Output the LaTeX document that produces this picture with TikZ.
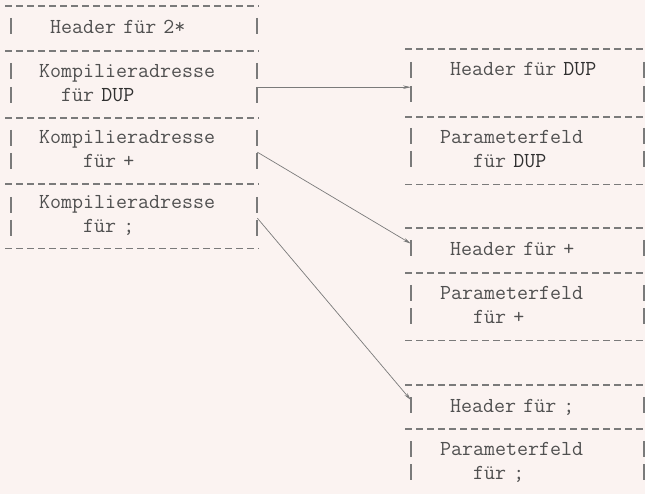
\documentclass[tikz,border=0pt]{standalone}
\usepackage{fontspec}
\usetikzlibrary{arrows.meta}

\definecolor{paper}{HTML}{FBF3F1}
\definecolor{ink}{HTML}{505050}
\definecolor{darkink}{HTML}{303030}
\definecolor{pen}{HTML}{7A7A7A}

\newcommand{\typewr}{\ttfamily\fontsize{21.36}{24}\selectfont
  \fontdimen2\font=11pt\fontdimen3\font=0pt\fontdimen4\font=0pt\relax}

\begin{document}
\begin{tikzpicture}[
  x=1pt, y=-1pt,
  >=Stealth,
  cellbase/.style={rectangle, anchor=north west, inner ysep=0pt,
              align=left, text=ink, font=\typewr},
  lcell/.style={cellbase, inner xsep=28pt, text width=190pt},
  lhead/.style={cellbase, inner xsep=39pt, text width=168pt},
  rcell/.style={cellbase, inner xsep=29pt, text width=176pt},
  rhead/.style={cellbase, inner xsep=39pt, text width=156pt},
  hyph/.style={pen, line width=1.1pt, dash pattern=on 7pt off 4pt},
  vbar/.style={pen, line width=1.1pt},
  arr/.style={-{Stealth[length=8pt,width=3.5pt]}, pen, line width=0.7pt},
]

\fill[paper] (0,0) rectangle (645,494);
\useasboundingbox (0,0) rectangle (645,494);

% Woerterbucheintrag von 2*
\node[lhead, minimum height=45pt] (h2s) at (11,6) {\strut Header für 2*};
\node[lcell, minimum height=67pt] (kdup) at (11,51)
  {\strut Kompilieradresse\\\strut\hspace*{22pt}für {\color{darkink}DUP}};
\node[lcell, minimum height=66pt] (kplus) at (11,118)
  {\strut Kompilieradresse\\\strut\hspace*{44pt}für +};
\node[lcell, minimum height=64pt] (ksemi) at (11,184)
  {\strut Kompilieradresse\\\strut\hspace*{44pt}für ;};

% aufgerufene Worte
\node[rhead, minimum height=68pt] (hdup) at (411,49)
  {\strut Header für {\color{darkink}DUP}\\\strut};
\node[rcell, minimum height=67pt] (pdup) at (411,117)
  {\strut Parameterfeld\\\strut\hspace*{33pt}für {\color{darkink}DUP}};
\node[rhead, minimum height=45pt] (hplus) at (411,228) {\strut Header für +};
\node[rcell, minimum height=67pt] (pplus) at (411,273)
  {\strut Parameterfeld\\\strut\hspace*{33pt}für +};
\node[rhead, minimum height=44pt] (hsemi) at (411,385) {\strut Header für ;};
\node[rcell, minimum height=67pt] (psemi) at (411,429)
  {\strut Parameterfeld\\\strut\hspace*{33pt}für ;};

% Trennlinien aus Bindestrichen
\foreach \c in {h2s,kdup,kplus,ksemi,hdup,pdup,hplus,pplus,hsemi,psemi}
  \draw[hyph] ([xshift=-6pt]\c.north west) -- ([xshift=1pt]\c.north east);
\foreach \c in {ksemi,pdup,pplus}
  \draw[hyph] ([xshift=-6pt]\c.south west) -- ([xshift=1pt]\c.south east);

% senkrechte Striche
\foreach \y in {28,73,97,140,163,207,230} {
  \draw[vbar] (11,{\y-10}) -- (11,{\y+6});
  \draw[vbar] (257,{\y-10}) -- (257,{\y+6});
}
\foreach \y in {72,96,138,161,250,295,318,407,451,474} {
  \draw[vbar] (411,{\y-10}) -- (411,{\y+6});
  \draw[vbar] (644,{\y-10}) -- (644,{\y+6});
}

\draw[arr] ([yshift=-2.5pt]kdup.east) -- ([yshift=-4pt]hdup.west);
\draw[arr] ([yshift=-1pt]kplus.east) -- ([yshift=7pt]hplus.west);
\draw[arr] ([yshift=-2pt]ksemi.east) -- ([yshift=7pt]hsemi.west);

\end{tikzpicture}
\end{document}
